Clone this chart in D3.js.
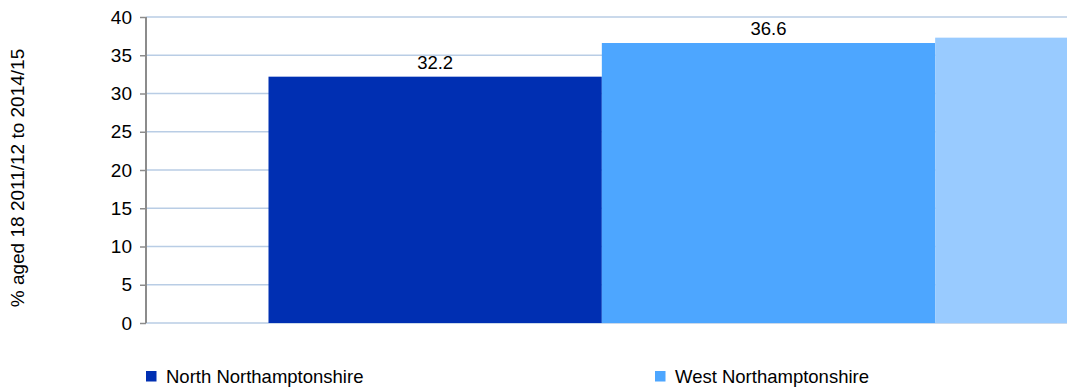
<!DOCTYPE html>
<html><head><meta charset="utf-8">
<script src="https://cdn.jsdelivr.net/npm/d3@7"></script>
<style>
html,body{margin:0;padding:0;background:#fff;overflow:hidden}
text{font-family:"Liberation Sans",Arial,sans-serif}
</style></head>
<body>
<svg id="c" width="1067" height="388"></svg>
<script>
const categories = ["% aged 18"];
const seriesNames = ["North Northamptonshire", "West Northamptonshire", "England"];
const seriesValues = [32.2, 36.6, 37.3];
const seriesColors = ["#002fb2", "#4da6ff", "#99cbff"];
const yTicks = [0, 5, 10, 15, 20, 25, 30, 35, 40];
const yTitle = "% aged 18 2011/12 to 2014/15";

(function () {
const W = 1067;
const svg = d3.select("#c");
const pL = 146, pR = 1391, pT = 17, pB = 323;

const y = d3.scaleLinear().domain([0, 40]).range([pB, pT]);
const x0 = d3.scaleBand().domain(categories).range([pL, pR]).paddingInner(0).paddingOuter(0.1225);
const x1 = d3.scaleBand().domain(seriesNames).range([0, x0.bandwidth()]).padding(0);

// gridlines
svg.append("g").selectAll("line").data(yTicks).join("line")
  .attr("x1", pL).attr("x2", W)
  .attr("y1", d => y(d)).attr("y2", d => y(d))
  .attr("stroke", "#b9cde5").attr("stroke-width", 1.3);

// bars
const g = svg.append("g");
categories.forEach(cat => {
  seriesNames.forEach((s, i) => {
    const bx = x0(cat) + x1(s);
    g.append("rect")
      .attr("x", bx)
      .attr("y", y(seriesValues[i]))
      .attr("width", x1.bandwidth())
      .attr("height", y(0) - y(seriesValues[i]))
      .attr("fill", seriesColors[i]);
    const cx = bx + x1.bandwidth() / 2;
    if (cx + 25 < W) {
      g.append("text")
        .attr("x", cx)
        .attr("y", y(seriesValues[i]) - 8)
        .attr("text-anchor", "middle")
        .attr("font-size", 18.5).attr("fill", "#000")
        .text(seriesValues[i].toFixed(1));
    }
  });
});

// y axis
const yAxis = d3.axisLeft(y).tickValues(yTicks).tickSize(6).tickPadding(8);
const ga = svg.append("g").attr("transform", `translate(${pL},0)`).call(yAxis);
ga.select(".domain").attr("stroke", "#8c8c8c").attr("stroke-width", 2).attr("d", `M0,${pT}V${pB}`);
ga.selectAll(".tick line").attr("stroke", "#8c8c8c").attr("stroke-width", 1.5);
ga.selectAll(".tick text").attr("font-size", 19).attr("fill", "#000")
  .attr("font-family", "'Liberation Sans',Arial,sans-serif");

// y title
svg.append("text")
  .attr("transform", `translate(24,${(pT + pB) / 2 + 8}) rotate(-90)`)
  .attr("text-anchor", "middle").attr("font-size", 19).attr("fill", "#000")
  .text(yTitle);

// legend
const legX = d3.scaleLinear().domain([0, 1]).range([146, 655]);
seriesNames.forEach((s, i) => {
  if (legX(i) + 200 > W) return;
  const lg = svg.append("g").attr("transform", `translate(${legX(i)},371)`);
  lg.append("rect").attr("width", 10.5).attr("height", 10.5).attr("fill", seriesColors[i]);
  lg.append("text").attr("x", 20).attr("y", 5.5).attr("dy", "0.36em")
    .attr("font-size", 18.5).attr("fill", "#000").text(s);
});
})();
</script>
</body></html>
